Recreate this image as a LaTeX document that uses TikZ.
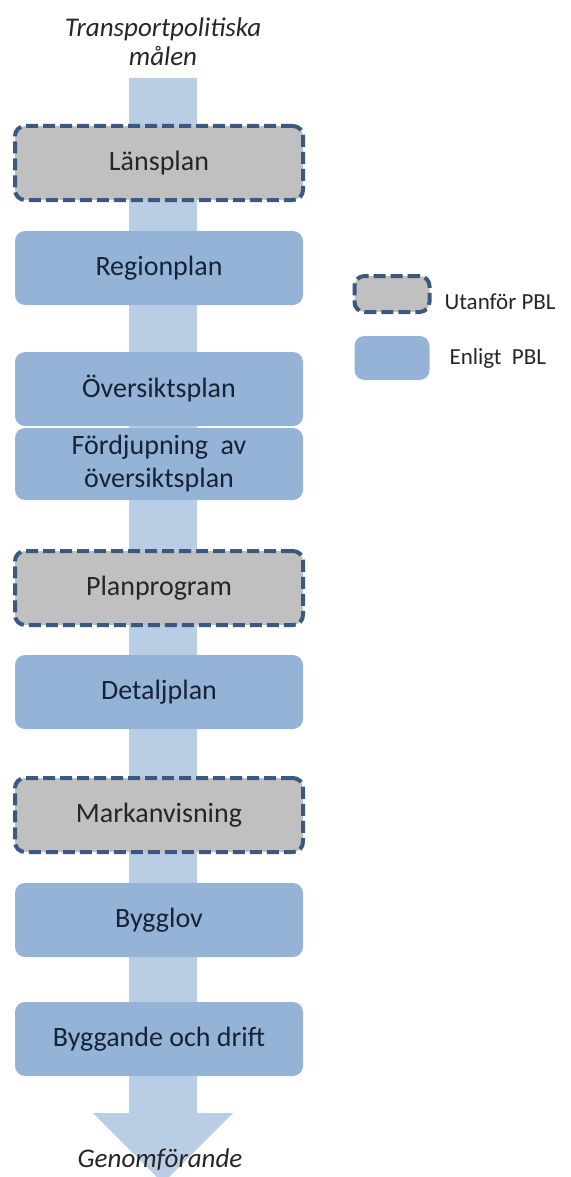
\documentclass[tikz,border=0pt]{standalone}
\usepackage{fontspec}
\setmainfont{Carlito}
\usetikzlibrary{calc}
\definecolor{ArrowClr}{RGB}{185,205,229}
\definecolor{PblClr}{RGB}{149,179,215}
\definecolor{OutClr}{RGB}{192,192,192}
\definecolor{EdgeClr}{RGB}{58,88,128}
\definecolor{TxtClr}{RGB}{22,34,54}

\tikzset{
  pblbox/.style={rectangle,rounded corners=10pt,fill=PblClr,text=TxtClr,
    minimum width=288pt,minimum height=74pt,inner sep=0pt,align=center,
    font=\fontsize{28}{33}\selectfont},
  outbox/.style={pblbox,fill=OutClr,text=black!85,draw=EdgeClr,
    line width=4pt,dash pattern=on 12pt off 5pt},
  endtext/.style={font=\fontsize{27}{29}\selectfont\itshape,text=black!85,align=center},
  keytext/.style={font=\fontsize{23}{25}\selectfont,text=black!85,anchor=west}
}

\begin{document}
\begin{tikzpicture}[x=1pt,y=-1pt]
\useasboundingbox (0,0) rectangle (570,1177);

\coordinate (S1) at (129,78);
\coordinate (S2) at (197,78);
\coordinate (S3) at (197,1113);
\coordinate (S4) at (233,1113);
\coordinate (T) at (163,1183);
\coordinate (S5) at (93,1113);
\coordinate (S6) at (129,1113);

\fill[ArrowClr] (S1) -- (S2) -- (S3) -- (S4) -- (T) -- (S5) -- (S6) -- cycle;

\node[endtext] (goal) at (163,42) {Transportpolitiska\\målen};
\node[endtext] (impl) at (160,1160) {Genomförande};

\node[outbox] (lan) at (159,163) {Länsplan};
\node[pblbox] (reg) at (159,268) {Regionplan};
\node[pblbox] (ovs) at (159,389) {Översiktsplan};
\node[pblbox,minimum height=72pt] (ford) at (159,464) {Fördjupning~ av\\översiktsplan};
\node[outbox] (prog) at (159,588) {Planprogram};
\node[pblbox] (det) at (159,692) {Detaljplan};
\node[outbox] (mark) at (159,815) {Markanvisning};
\node[pblbox] (lov) at (159,920) {Bygglov};
\node[pblbox] (drift) at (159,1039) {Byggande och drift};

\node[outbox,minimum width=75pt,minimum height=36pt] (keyout) at (392,294) {};
\node[pblbox,minimum width=75pt,minimum height=44pt] (keypbl) at (392,358) {};
\node[keytext] at (441,302) {Utanför PBL};
\node[keytext] at (446,358) {Enligt~ PBL};

\end{tikzpicture}
\end{document}
